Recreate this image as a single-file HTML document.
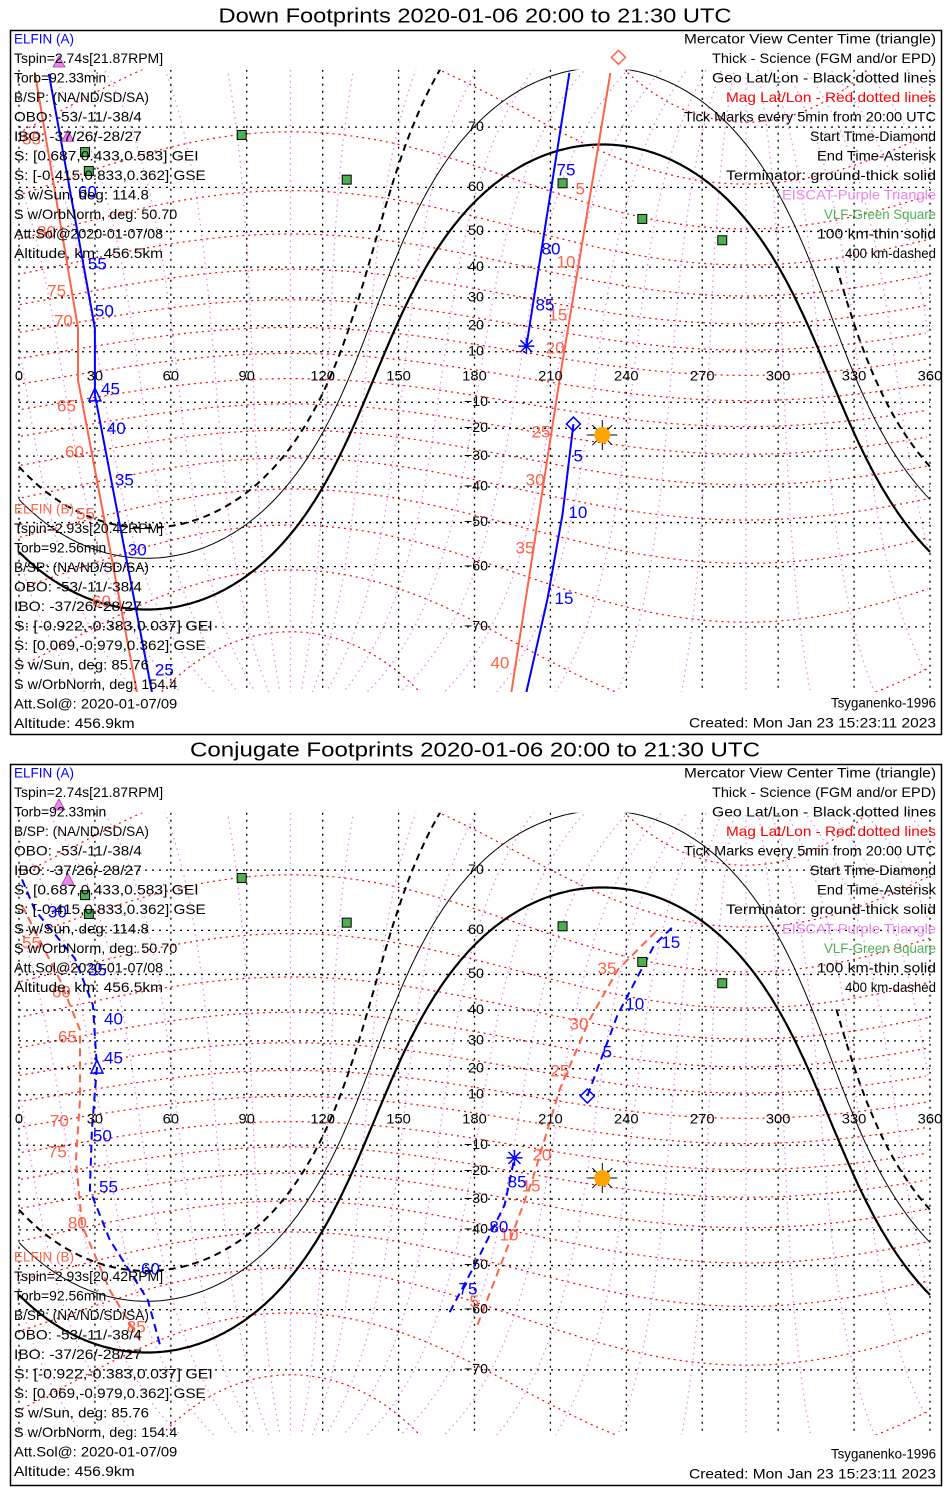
<!DOCTYPE html>
<html><head><meta charset="utf-8"><title>ELFIN Footprints</title>
<style>
html,body{margin:0;padding:0;background:#fff;width:950px;height:1500px;overflow:hidden;}
svg{display:block;font-family:"Liberation Sans",sans-serif;}
</style></head>
<body>
<svg id="chart" width="950" height="1500" viewBox="0 0 950 1500" xmlns="http://www.w3.org/2000/svg">
<rect x="0" y="0" width="950" height="1500" fill="#fff"/>
</svg>
<script>
// ---------- data ----------
const lonTicks = [0,30,60,90,120,150,180,210,240,270,300,330,360];
const latTicks = [70,60,50,40,30,20,10,-10,-20,-30,-40,-50,-60,-70];
const subsolarLon = 230.5;
const sunDec = -22.5;
const termDepression = [0, 0.16, 0.278]; // ground, 100km, 400km
const magPoleLat = 80.65, magPoleLon = 287.3;
const magLatLevels = [-80,-70,-60,-50,-40,-30,-20,-10,0,10,20,30,40,50,60,70,80];
const magLonLevels = [0,15,30,45,60,75,90,105,120,135,150,165,180,195,210,225,240,255,270,285,300,315,330,345];
const vlfStations = [[88.0,68.9],[26.1,66.3],[27.6,63.1],[129.5,61.5],[214.8,60.8],[246.3,53.1],[277.9,47.7]];
const eiscatStations = [[15.8,77.2],[19.3,68.7]];

// Panel 1 (down footprints)
const p1TrackA = [[[11.8,76.1],[30,19.1],[30,-7.1],[52.5,-77.2]],[[217.5,76.2],[200.5,12.2]],[[219.1,-18.4],[214.8,-47.7],[208.8,-65.9],[200.5,-77.2]]];
const p1LabelsA = [[32.4,-5.2,'45'],[30.0,25.0,'50'],[27.2,40.6,'55'],[23.3,58.9,'60'],[34.7,-20.4,'40'],[37.9,-38.2,'35'],[43.0,-56.7,'30'],[53.7,-75.2,'25'],[212.4,63.1,'75'],[206.5,45.0,'80'],[204.1,27.2,'85'],[219.1,-30.3,'5'],[217.1,-47.7,'10'],[211.6,-65.9,'15']];
const p1TrackB = [[[6.3,76.2],[23.3,19.1],[23.3,-1.2],[46.6,-77.2]],[[233.7,76.2],[213.6,-1.2],[194.6,-77.2]]];
const p1LabelsB = [[1.2,68.2,'85'],[7.1,49.6,'80'],[11.1,32.0,'75'],[13.8,21.4,'70'],[15.0,-11.9,'65'],[18.2,-28.9,'60'],[22.5,-48.0,'55'],[28.8,-66.4,'60'],[219.9,59.5,'5'],[212.4,41.2,'10'],[209.2,23.6,'15'],[208.1,11.1,'20'],[202.5,-21.8,'25'],[200.2,-38.2,'30'],[196.2,-56.3,'35'],[186.3,-74.5,'40']];
const p1StartA = [219.1,-18.4], p1EndA = [200.5,12.2], p1MidA = [30,-7.1], p1StartB = [236.9,77.6];

// Panel 2 (conjugate footprints)
const p2TrackA = [[[1.2,68.7],[6.3,63.8],[22.1,53.9],[29.2,41.5],[30.8,20.6],[28.8,-4.0],[28.0,-26.8],[35.9,-43.0],[50.9,-58.0],[55.7,-66.3]],[[224.6,9.5],[236.5,38.5],[251.1,57.0],[259.0,61.0]],[[170.2,-60.5],[181.2,-48.5],[191.9,-32.0],[195.8,-14.9]]];
const p2LabelsA = [[11.4,63.3,'30'],[27.2,50.9,'35'],[33.6,36.9,'40'],[33.6,23.6,'45'],[29.2,-6.7,'50'],[31.6,-26.1,'55'],[48.2,-51.1,'60'],[230.6,25.7,'5'],[239.6,41.5,'10'],[253.8,57.3,'15'],[173.7,-55.9,'75'],[185.9,-39.4,'80'],[193.1,-24.3,'85']];
const p2TrackB = [[[1.2,64.6],[16.2,48.5],[24.1,33.7],[24.1,7.9],[22.5,-15.8],[24.9,-38.5],[35.9,-55.9],[47.8,-65.6]],[[181.2,-62.9],[191.9,-47.2],[202.9,-23.2],[213.6,11.9],[225.4,36.9],[236.5,51.1],[253.1,60.5]]];
const p2LabelsB = [[1.2,57.2,'55'],[13.0,45.0,'60'],[15.4,31.0,'65'],[12.2,-0.8,'70'],[11.4,-13.1,'75'],[19.3,-38.2,'80'],[42.6,-63.5,'85'],[178.0,-58.5,'5'],[189.9,-41.8,'10'],[198.6,-25.7,'15'],[202.9,-14.2,'20'],[210.0,18.8,'25'],[217.5,35.3,'30'],[228.6,51.3,'35']];
const p2StartA = [224.6,9.5], p2EndA = [195.8,-14.9], p2MidA = [30.8,20.6];

const infoA = ['Tspin=2.74s[21.87RPM]','Torb=92.33min','B/SP: (NA/ND/SD/SA)','OBO: -53/-11/-38/4','IBO: -37/26/-28/27','S: [0.687,0.433,0.583] GEI','S: [-0.415,0.833,0.362] GSE','S w/Sun, deg: 114.8','S w/OrbNorm, deg: 50.70','Att.Sol@2020-01-07/08','Altitude, km: 456.5km'];
const infoB = ['Tspin=2.93s[20.42RPM]','Torb=92.56min','B/SP: (NA/ND/SD/SA)','OBO: -53/-11/-38/4','IBO: -37/26/-28/27','S: [-0.922,-0.383,0.037] GEI','S: [0.069,-0.979,0.362] GSE','S w/Sun, deg: 85.76','S w/OrbNorm, deg: 154.4','Att.Sol@: 2020-01-07/09','Altitude: 456.9km'];
const legendLines = ['Mercator View Center Time (triangle)','Thick - Science (FGM and/or EPD)','Geo Lat/Lon - Black dotted lines','Mag Lat/Lon - Red dotted lines','Tick Marks every 5min from 20:00 UTC','Start Time-Diamond','End Time-Asterisk','Terminator: ground-thick solid','EISCAT-Purple Triangle','VLF-Green Square','100 km-thin solid','400 km-dashed'];
const legendColors = ['#000','#000','#000','#f00','#000','#000','#000','#000','#ee82ee','#4caf50','#000','#000'];

// ---------- helpers ----------
const NS='http://www.w3.org/2000/svg';
const svg=document.getElementById('chart');
const RAD=Math.PI/180, K=144;
function px(lon){return 19+lon*911/360;}
function py(lat,y0){return y0-K*Math.log(Math.tan(Math.PI/4+lat*RAD/2));}
function mk(tag,attrs,parent){const e=document.createElementNS(NS,tag);for(const k in attrs)e.setAttribute(k,attrs[k]);(parent||svg).appendChild(e);return e;}
function txt(s,x,y,opts,parent){const t=mk('text',Object.assign({x:x,y:y,'font-size':14,'dominant-baseline':'middle'},opts||{}),parent);t.textContent=s;return t;}
function termLat(lon,d){
  const H=(lon-subsolarLon)*RAD,a=Math.sin(sunDec*RAD),b=Math.cos(sunDec*RAD)*Math.cos(H);
  const f=l=>a*Math.sin(l*RAD)+b*Math.cos(l*RAD)+d;
  let lo=-89.9,hi=89.9;
  for(let i=0;i<50;i++){const m=(lo+hi)/2;if(f(m)>0)lo=m;else hi=m;}
  return (lo+hi)/2;
}
function magToGeo(mlat,mlon){
  const l=mlat*RAD,m=mlon*RAD,th=(90-magPoleLat)*RAD,pl=magPoleLon*RAD;
  const x=Math.cos(l)*Math.cos(m),y=Math.cos(l)*Math.sin(m),z=Math.sin(l);
  const x1=Math.cos(th)*x+Math.sin(th)*z,y1=y,z1=-Math.sin(th)*x+Math.cos(th)*z;
  const X=Math.cos(pl)*x1-Math.sin(pl)*y1,Y=Math.sin(pl)*x1+Math.cos(pl)*y1;
  let lon=Math.atan2(Y,X)/RAD;if(lon<0)lon+=360;
  return [lon,Math.asin(Math.max(-1,Math.min(1,z1)))/RAD];
}
function polyPaths(pts,y0){
  const segs=[];let cur=[];
  for(let i=0;i<pts.length;i++){
    if(pts[i]===null){segs.push(cur);cur=[];continue;}
    if(cur.length&&i>0&&pts[i-1]&&Math.abs(pts[i][0]-pts[i-1][0])>180){segs.push(cur);cur=[];}
    cur.push(px(pts[i][0]).toFixed(1)+','+py(pts[i][1],y0).toFixed(1));
  }
  segs.push(cur);
  return segs.filter(s=>s.length>1).map(s=>'M'+s.join('L')).join('');
}

function drawPanel(cfg){
  const y0=cfg.y0,g=mk('g',{});
  
  
  const top=py(76.5,y0),bot=py(-77.2,y0);
  const cid='clip'+cfg.id;
  const cp=mk('clipPath',{id:cid},g);mk('rect',{x:17,y:top,width:916,height:bot-top},cp);
  const map=mk('g',{'clip-path':'url(#'+cid+')'},g);
  
  
  magLonLevels.forEach(ml=>{const pts=[];for(let la=-88;la<=88;la+=2)pts.push(magToGeo(la,ml));
    const p=mk('path',{d:polyPaths(pts,y0),fill:'none',stroke:'#ee82ee','stroke-width':1.2,'stroke-dasharray':'1.5,4'},map);
    
    });
  magLatLevels.forEach(ml=>{const pts=[];for(let mo=0;mo<=360;mo+=2)pts.push(magToGeo(ml,mo));
    pts.sort((a,b)=>a[0]-b[0]);
    const p=mk('path',{d:polyPaths(pts,y0),fill:'none',stroke:'#f00','stroke-width':1.2,'stroke-dasharray':'2,4'},map);
    
    });
  latTicks.forEach(la=>{const y=py(la,y0);const l=mk('line',{x1:px(0),x2:px(360),y1:y,y2:y,stroke:'#000','stroke-width':1.3,'stroke-dasharray':'2,5'},map);
    
    });
  lonTicks.forEach(lo=>{const x=px(lo);const l=mk('line',{x1:x,x2:x,y1:top,y2:bot,stroke:'#000','stroke-width':1.3,'stroke-dasharray':'2,5'},map);
    
    });
  const styles=[{w:2.2,da:'none',n:'terminator-ground'},{w:1,da:'none',n:'terminator-100km'},{w:2,da:'7,5',n:'terminator-400km'}];
  termDepression.forEach((d,i)=>{const pts=[];for(let lo=0;lo<=360;lo+=1){const la=termLat(lo,d);
      if(i===2&&lo>280&&la>42)pts.push(null);else pts.push([lo,la]);}
    const p=mk('path',{d:polyPaths(pts,y0),fill:'none',stroke:'#000','stroke-width':styles[i].w,'stroke-dasharray':styles[i].da},map);
    
    });
  const dash=cfg.dashed?'8,5':'none';
  cfg.trackB.forEach(seg=>{const p=mk('path',{d:polyPaths(seg,y0),fill:'none',stroke:'#ff6347','stroke-width':2,'stroke-dasharray':dash},map);
    
    });
  cfg.trackA.forEach(seg=>{const p=mk('path',{d:polyPaths(seg,y0),fill:'none',stroke:'#0000ff','stroke-width':2,'stroke-dasharray':dash},map);
    
    });
  lonTicks.forEach(lo=>{const s=String(lo);const t=txt(s,px(lo),py(0,y0),{'text-anchor':'middle',textLength:s.length*8.2,lengthAdjust:'spacingAndGlyphs'},g);
    
    });
  latTicks.forEach(la=>{const s=(la<0?'\u2212':'')+Math.abs(la);const t=txt(s,476,py(la,y0),{'text-anchor':'middle',textLength:s.length*8,lengthAdjust:'spacingAndGlyphs'},g);
    
    });
  vlfStations.forEach(s=>{const x=px(s[0]),y=py(s[1],y0);const r=mk('rect',{x:x-4.5,y:y-4.5,width:9,height:9,fill:'#4caf50',stroke:'#000','stroke-width':1},g);
    
    });
  eiscatStations.forEach(s=>{const x=px(s[0]),y=py(s[1],y0);const p=mk('polygon',{points:`${x-6},${y+5} ${x+6},${y+5} ${x},${y-6}`,fill:'#ee82ee',stroke:'#a040a0','stroke-width':0.8},g);
    
    });
  cfg.labelsB.forEach(l=>{const t=txt(l[2],px(l[0]),py(l[1],y0),{fill:'#ff6347','font-size':17,textLength:l[2].length*9.5,lengthAdjust:'spacingAndGlyphs'},g);
    
    });
  cfg.labelsA.forEach(l=>{const t=txt(l[2],px(l[0]),py(l[1],y0),{fill:'#0000ff','font-size':17,textLength:l[2].length*9.5,lengthAdjust:'spacingAndGlyphs'},g);
    
    });
  let x=px(cfg.startA[0]),y=py(cfg.startA[1],y0);
  let m=mk('polygon',{points:`${x},${y-7} ${x+7},${y} ${x},${y+7} ${x-7},${y}`,fill:'none',stroke:'#0000ff','stroke-width':1.5},g);
  
  
  if(cfg.startB){x=px(cfg.startB[0]);y=py(cfg.startB[1],y0);
    m=mk('polygon',{points:`${x},${y-7} ${x+7},${y} ${x},${y+7} ${x-7},${y}`,fill:'none',stroke:'#ff6347','stroke-width':1.5},g);
    
    }
  x=px(cfg.endA[0]);y=py(cfg.endA[1],y0);
  m=mk('path',{d:`M${x-8},${y}H${x+8}M${x},${y-8}V${y+8}M${x-6},${y-6}L${x+6},${y+6}M${x-6},${y+6}L${x+6},${y-6}`,stroke:'#0000ff','stroke-width':1.5},g);
  
  
  x=px(cfg.midA[0]);y=py(cfg.midA[1],y0);
  m=mk('polygon',{points:`${x-6},${y+6} ${x+6},${y+6} ${x},${y-7}`,fill:'none',stroke:'#0000ff','stroke-width':1.5},g);
  
  
  x=px(subsolarLon);y=py(sunDec,y0);
  m=mk('path',{d:`M${x-15},${y}H${x+15}M${x},${y-15}V${y+15}M${x-10},${y-10}L${x+10},${y+10}M${x-10},${y+10}L${x+10},${y-10}`,stroke:'#000','stroke-width':1},g);
  
  
  m=mk('circle',{cx:x,cy:y,r:8,fill:'#ffa500'},g);
  
  
  m=mk('rect',{x:10.5,y:cfg.boxTop+0.5,width:931,height:cfg.boxH,fill:'none',stroke:'#000','stroke-width':1.5},g);
  
  
  m=txt(cfg.title,475,cfg.boxTop-13,{'text-anchor':'middle','font-size':20,textLength:cfg.title.length*11.4,lengthAdjust:'spacingAndGlyphs'},g);
  
  
  const b=cfg.boxTop;
  m=txt('ELFIN (A)',14,b+10,{fill:'#0000ff',textLength:60,lengthAdjust:'spacingAndGlyphs'},g);
  
  
  infoA.forEach((s,i)=>{const t=txt(s,14,b+29.4+i*19.5,{textLength:s.length*7.1,lengthAdjust:'spacingAndGlyphs'},g);
    
    });
  const bb=b+cfg.blockB;
  m=txt('ELFIN (B)',14,bb,{fill:'#ff6347',textLength:60,lengthAdjust:'spacingAndGlyphs'},g);
  
  
  infoB.forEach((s,i)=>{const t=txt(s,14,bb+19.4+i*19.5,{textLength:s.length*7.1,lengthAdjust:'spacingAndGlyphs'},g);
    
    });
  legendLines.forEach((s,i)=>{const t=txt(s,936,b+10+i*19.5,{'text-anchor':'end',fill:legendColors[i],textLength:s.length*7.0,lengthAdjust:'spacingAndGlyphs'},g);
    
    });
  m=txt('Tsyganenko-1996',936,cfg.boxTop+cfg.boxH-30,{'text-anchor':'end',textLength:105,lengthAdjust:'spacingAndGlyphs'},g);
  
  
  m=txt('Created: Mon Jan 23 15:23:11 2023',936,cfg.boxTop+cfg.boxH-10,{'text-anchor':'end',textLength:247,lengthAdjust:'spacingAndGlyphs'},g);
  
  
}

drawPanel({id:1,name:'down-footprints-panel',y0:377,boxTop:30,boxH:704,blockB:480,dashed:false,
  title:'Down Footprints 2020-01-06 20:00 to 21:30 UTC',
  trackA:p1TrackA,labelsA:p1LabelsA,trackB:p1TrackB,labelsB:p1LabelsB,startA:p1StartA,endA:p1EndA,midA:p1MidA,startB:p1StartB});
drawPanel({id:2,name:'conjugate-footprints-panel',y0:1120,boxTop:764,boxH:721,blockB:494,dashed:true,
  title:'Conjugate Footprints 2020-01-06 20:00 to 21:30 UTC',
  trackA:p2TrackA,labelsA:p2LabelsA,trackB:p2TrackB,labelsB:p2LabelsB,startA:p2StartA,endA:p2EndA,midA:p2MidA,startB:null});
</script>
</body></html>
